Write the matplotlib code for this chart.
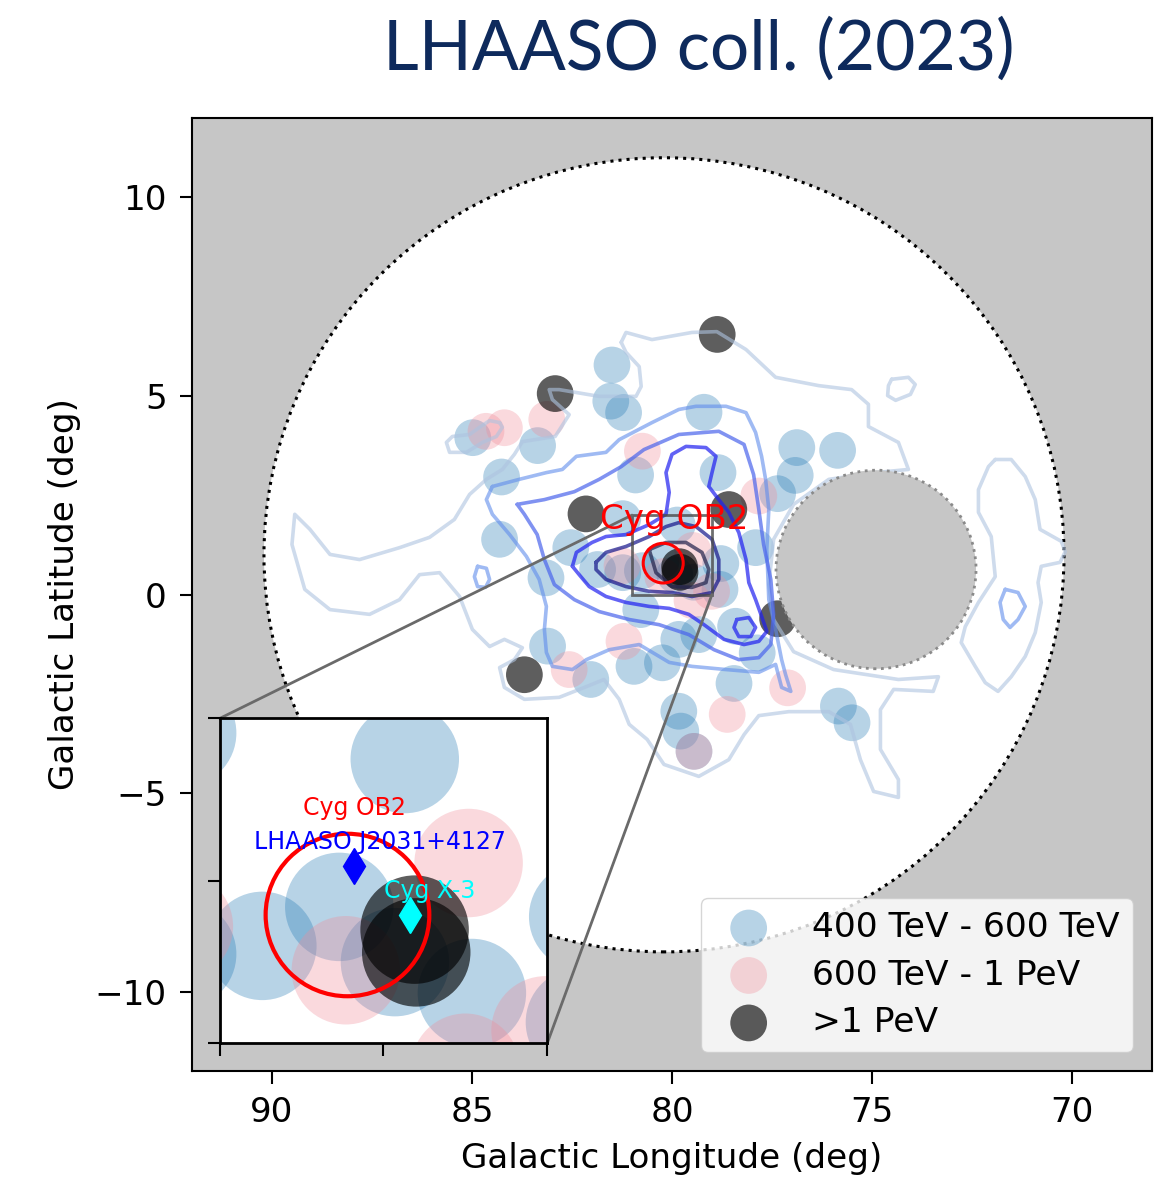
import matplotlib
matplotlib.use("Agg")
import matplotlib.pyplot as plt
from matplotlib.patches import Circle, Rectangle, ConnectionPatch

plt.rcParams['font.family'] = ['DejaVu Sans']

# ---------------- photon-like events (Galactic lon, lat in deg) ----------------
blue_lon = [81.50, 81.53, 81.21, 84.98, 83.36, 84.26, 80.91, 84.31, 79.20, 76.88,
            75.86, 76.92, 77.36, 78.85, 77.91, 82.53, 83.15, 81.86, 80.78, 83.11,
            82.03, 80.95, 80.24, 78.41, 79.83, 79.33, 77.87, 78.45, 79.83, 79.78,
            79.45, 75.84, 75.50, 79.87, 80.27, 80.74, 81.23, 81.23, 79.93, 79.46,
            78.78, 78.80]
blue_lat = [5.78, 4.87, 4.58, 3.95, 3.75, 2.96, 3.01, 1.39, 4.59, 3.70,
            3.63, 3.00, 2.54, 3.07, 1.18, 1.18, 0.42, 0.63, -0.38, -1.30,
            -2.14, -1.81, -1.72, -0.80, -1.13, -1.01, -1.47, -2.24, -2.94, -3.44,
            -3.95, -2.81, -3.23, 1.75, 0.84, 0.60, 0.55, 1.91, 0.50, 0.31,
            0.78, 0.13]

pink_lon = [83.13, 84.65, 84.19, 80.74, 77.83, 81.20, 82.57, 77.11, 78.62, 79.45,
            79.48, 80.23, 81.25, 79.01, 79.50]
pink_lat = [4.41, 4.11, 4.20, 3.61, 2.48, -1.18, -1.89, -2.35, -3.02, -3.95,
            1.11, 0.45, 0.72, 0.08, -0.15]

pev_lon = [82.92, 82.15, 78.87, 78.58, 77.36, 83.69, 79.81, 79.80]
pev_lat = [5.06, 2.03, 6.55, 2.14, -0.61, -2.02, 0.70, 0.56]

event_labels = ['400 TeV - 600 TeV', '600 TeV - 1 PeV', '>1 PeV']

# ---------------- significance contours (lon, lat vertices) ----------------
level1_main = [(81.27, 6.35), (81.15, 6.60), (80.50, 6.42), (79.50, 6.60), (78.88, 6.62),
               (78.15, 6.17), (77.41, 5.47), (76.33, 5.26), (75.51, 5.16), (75.09, 4.79),
               (75.09, 4.23), (74.34, 3.83), (74.09, 3.15), (74.91, 3.07), (76.08, 2.90),
               (76.96, 2.27), (77.46, 1.39), (77.58, 0.25), (77.46, -0.63), (76.96, -1.44),
               (75.96, -1.89), (74.34, -2.14), (73.34, -2.07), (73.47, -2.44), (74.46, -2.39),
               (74.79, -2.90), (74.79, -3.90), (74.34, -4.66), (74.34, -5.11), (74.96, -4.96),
               (75.29, -4.16), (75.54, -3.27), (76.08, -2.95), (77.08, -2.95), (77.83, -3.05),
               (78.20, -3.53), (78.58, -4.16), (79.33, -4.58), (80.20, -4.28), (80.62, -3.65),
               (81.07, -3.27), (81.32, -2.64), (81.70, -2.14), (82.14, -2.32), (82.82, -2.59),
               (83.69, -2.64), (84.19, -2.34), (84.31, -1.84), (83.94, -1.64), (83.74, -1.34),
               (84.19, -1.13), (84.56, -1.31), (84.99, -0.88), (85.31, -0.05), (85.81, 0.55),
               (86.31, 0.50), (86.81, -0.13), (87.56, -0.50), (88.55, -0.38), (89.18, 0.13),
               (89.50, 1.26), (89.43, 2.02), (89.05, 1.64), (88.55, 1.01), (87.81, 0.88),
               (86.81, 1.18), (86.06, 1.44), (85.44, 1.89), (85.06, 2.52), (84.64, 2.90),
               (84.24, 3.15), (83.94, 3.53), (83.74, 3.85), (82.92, 3.98), (82.57, 4.53),
               (82.99, 4.91), (83.07, 5.16), (82.82, 5.16), (81.82, 4.99), (80.90, 4.99),
               (80.77, 5.24), (80.82, 5.74), (81.15, 6.10)]
level1_lobe = [(84.31, 4.33), (84.56, 4.38), (84.81, 4.21), (85.06, 4.03), (85.49, 3.98),
               (85.64, 3.83), (85.56, 3.58), (85.14, 3.58), (84.74, 3.83), (84.39, 3.98),
               (84.24, 4.21)]
level1_spot = [(74.51, 5.42), (74.09, 5.47), (73.92, 5.29), (74.04, 5.04), (74.41, 4.89),
               (74.61, 5.01), (74.59, 5.26)]
level1_east = [(71.92, 3.40), (71.52, 3.40), (71.17, 2.97), (70.92, 2.39), (70.80, 1.64),
               (70.27, 1.34), (70.17, 1.08), (70.30, 0.81), (70.77, 0.71), (70.85, 0.30),
               (70.77, -0.20), (70.92, -0.96), (71.17, -1.56), (71.52, -2.07), (71.85, -2.44),
               (72.17, -2.22), (72.42, -1.81), (72.77, -1.21), (72.67, -0.81), (72.34, -0.20),
               (71.92, 0.45), (72.02, 1.46), (72.34, 2.07), (72.34, 2.64), (72.09, 3.22)]

level2_main = [(84.49, 2.72), (83.82, 2.90), (83.14, 3.07), (82.74, 3.15), (82.39, 3.48),
               (81.65, 3.58), (81.32, 3.90), (80.50, 4.33), (79.83, 4.66), (79.40, 4.74),
               (78.65, 4.74), (78.15, 4.58), (77.91, 4.08), (77.76, 3.48), (77.66, 2.90),
               (77.58, 2.14), (77.63, 1.13), (77.58, -0.13), (77.41, -0.88), (77.26, -1.64),
               (77.16, -2.02), (77.03, -2.44), (77.26, -2.34), (77.41, -1.76), (77.83, -1.96),
               (78.65, -1.89), (79.50, -1.81), (80.07, -1.71), (80.82, -1.26), (81.57, -1.39),
               (82.14, -1.64), (82.49, -1.89), (82.99, -1.81), (83.14, -1.46), (83.19, -0.88),
               (83.14, -0.30), (83.32, 0.38), (83.64, 0.96), (84.06, 1.51), (84.49, 2.02),
               (84.64, 2.39)]
level2_spot = [(84.86, 0.71), (84.64, 0.66), (84.56, 0.38), (84.66, 0.18), (84.86, 0.20),
               (84.94, 0.45)]
level2_east = [(71.67, 0.13), (71.35, 0.05), (71.17, -0.30), (71.35, -0.63), (71.55, -0.83),
               (71.72, -0.63), (71.80, -0.20)]

level3_main = [(83.87, 2.27), (83.19, 2.39), (82.44, 2.59), (81.82, 2.90), (81.27, 3.22),
               (80.70, 3.65), (79.83, 4.03), (78.83, 4.11), (78.20, 3.78), (77.96, 3.02),
               (77.83, 2.14), (77.71, 1.26), (77.53, 0.38), (77.46, -0.50), (77.53, -1.26),
               (77.83, -1.59), (78.33, -1.64), (78.95, -1.39), (79.58, -1.01), (80.32, -0.76),
               (81.07, -0.63), (81.82, -0.43), (82.44, -0.13), (82.94, 0.25), (83.19, 0.88),
               (83.37, 1.51), (83.69, 2.02)]

level4_main = [(82.49, 0.71), (82.39, 1.06), (82.00, 1.31), (81.65, 1.46), (81.15, 1.51),
               (80.57, 1.76), (80.15, 2.02), (80.07, 2.57), (80.15, 3.07), (80.00, 3.53),
               (79.65, 3.73), (79.15, 3.70), (78.90, 3.48), (79.00, 3.07), (79.08, 2.72),
               (78.83, 2.39), (78.58, 2.07), (78.33, 1.56), (78.15, 0.88), (78.08, 0.30),
               (77.91, -0.13), (77.76, -0.55), (77.63, -0.93), (77.83, -1.18), (78.20, -1.26),
               (78.70, -1.13), (79.20, -0.76), (79.58, -0.50), (80.07, -0.35), (80.57, -0.30),
               (81.15, -0.20), (81.65, -0.05), (82.07, 0.20), (82.32, 0.50)]
level4_spot = [(78.38, -0.63), (78.08, -0.58), (77.91, -0.83), (78.03, -1.06), (78.33, -1.06),
               (78.45, -0.83)]

level5_main = [(81.90, 0.81), (81.65, 1.06), (81.15, 1.21), (80.57, 1.46), (80.15, 1.71),
               (79.83, 1.81), (79.40, 1.71), (79.00, 1.39), (78.83, 0.88), (78.83, 0.38),
               (79.00, 0.05), (79.50, -0.05), (80.00, 0.05), (80.57, 0.08), (81.15, 0.20),
               (81.65, 0.38), (81.90, 0.63)]

level6_main = [(80.57, 1.13), (80.15, 1.31), (79.65, 1.31), (79.25, 1.06), (79.08, 0.63),
               (79.15, 0.30), (79.50, 0.18), (80.00, 0.20), (80.40, 0.55)]

contour_levels = [
    ([level1_main, level1_lobe, level1_spot, level1_east], '#aec3e0', 0.6),
    ([level2_main, level2_spot, level2_east], '#5f8cec', 0.6),
    ([level3_main], '#4a64ec', 0.7),
    ([level4_main, level4_spot], '#1f1ff0', 0.7),
    ([level5_main], '#14148a', 0.7),
    ([level6_main], '#20204a', 0.7),
]

# ---------------- sources and field of view ----------------
fov_center, fov_radius = (80.2, 1.0), 10.0
mask_center, mask_radius = (74.9, 0.63), 2.5
cygob2_lon, cygob2_lat, cygob2_radius = 80.22, 0.79, 0.5
lhaaso_lon, lhaaso_lat = 80.18, 1.09
cygx3_lon, cygx3_lat = 79.84, 0.79
zoom_lon, zoom_lat = (81.0, 79.0), (0.0, 2.0)

blue_c, pink_c, pev_c = '#1f77b4', '#f08c9a', 'black'
blue_a, pink_a, pev_a = 0.32, 0.33, 0.63

font_size = 24.6


def draw_events(a, size, with_labels):
    lab = event_labels if with_labels else [None, None, None]
    a.scatter(blue_lon, blue_lat, s=size, c=blue_c, alpha=blue_a,
              edgecolors='none', label=lab[0], zorder=2)
    a.scatter(pink_lon, pink_lat, s=size, c=pink_c, alpha=pink_a,
              edgecolors='none', label=lab[1], zorder=2)
    a.scatter(pev_lon, pev_lat, s=size, c=pev_c, alpha=pev_a,
              edgecolors='none', label=lab[2], zorder=2)


fig = plt.figure(figsize=(11.69, 11.79), dpi=100)
ax = fig.add_axes([0.1642, 0.0916, 0.8213, 0.8083])
ax.set_facecolor('#c6c6c6')
ax.set_xlim(92, 68)
ax.set_ylim(-12, 12)

ax.add_patch(Circle(fov_center, fov_radius, facecolor='white', edgecolor='black',
                    linestyle=':', linewidth=2.2, zorder=0.5))
ax.add_patch(Circle(mask_center, mask_radius, facecolor='#c6c6c6', edgecolor='#8a8a8a',
                    linestyle=':', linewidth=2.0, zorder=3.5))

draw_events(ax, 700, True)

for curves, col, alp in contour_levels:
    for curve in curves:
        lon = [p[0] for p in curve] + [curve[0][0]]
        lat = [p[1] for p in curve] + [curve[0][1]]
        ax.plot(lon, lat, color=col, alpha=alp, lw=2.6, solid_joinstyle='round',
                solid_capstyle='round', zorder=3)

ax.add_patch(Circle((cygob2_lon, cygob2_lat), cygob2_radius, fill=False,
                    edgecolor='red', linewidth=2.2, zorder=5))
ax.text(79.95, 1.89, 'Cyg OB2', color='red', fontsize=font_size, ha='center',
        va='center', zorder=6)

ax.add_patch(Rectangle((zoom_lon[1], zoom_lat[0]), zoom_lon[0] - zoom_lon[1],
                       zoom_lat[1] - zoom_lat[0], fill=False, edgecolor='#4a4a4a',
                       alpha=0.8, linewidth=2.0, zorder=4))

ax.set_xticks([90, 85, 80, 75, 70])
ax.set_yticks([-10, -5, 0, 5, 10])
ax.tick_params(labelsize=font_size, length=9, width=1.5, pad=9)
for sp in ax.spines.values():
    sp.set_linewidth(1.5)
ax.set_xlabel('Galactic Longitude (deg)', fontsize=font_size, labelpad=9)
ax.set_ylabel('Galactic Latitude (deg)', fontsize=font_size, labelpad=10)

leg = ax.legend(loc='lower right', fontsize=24.8, borderpad=0.38, handletextpad=0.85,
                labelspacing=0.42, borderaxespad=0.55)
leg.set_zorder(7)

# ---------------- zoomed view of the Cyg OB2 region ----------------
ax_in = ax.inset_axes([0.029, 0.029, 0.341, 0.341])
ax_in.set_facecolor('white')
ax_in.set_xlim(*zoom_lon)
ax_in.set_ylim(*zoom_lat)
draw_events(ax_in, 6100, False)
ax_in.add_patch(Circle((cygob2_lon, cygob2_lat), cygob2_radius, fill=False,
                       edgecolor='red', linewidth=3.0, zorder=5))
ax_in.plot([lhaaso_lon], [lhaaso_lat], marker='d', color='blue', ms=18, zorder=6)
ax_in.plot([cygx3_lon], [cygx3_lat], marker='d', color='cyan', ms=18, zorder=6)
ax_in.text(80.18, 1.45, 'Cyg OB2', color='red', fontsize=17, ha='center', va='center',
           zorder=7)
ax_in.text(80.02, 1.24, 'LHAASO J2031+4127', color='blue', fontsize=17, ha='center',
           va='center', zorder=7)
ax_in.text(79.72, 0.94, 'Cyg X-3', color='cyan', fontsize=17, ha='center', va='center',
           zorder=7)
ax_in.set_xticks([81, 80, 79])
ax_in.set_yticks([0, 1, 2])
ax_in.set_xticklabels([])
ax_in.set_yticklabels([])
ax_in.tick_params(length=9, width=1.5)
for sp in ax_in.spines.values():
    sp.set_linewidth(2.0)

for corner in [(zoom_lon[0], zoom_lat[1]), (zoom_lon[1], zoom_lat[0])]:
    con = ConnectionPatch(xyA=corner, coordsA=ax.transData, xyB=corner,
                          coordsB=ax_in.transData, color='#6a6a6a', linewidth=2.0,
                          zorder=4)
    ax.add_artist(con)

fig.text(0.598, 0.958, 'LHAASO coll. (2023)', fontsize=50, color='#0e2a5c',
         family=['Lato', 'DejaVu Sans'], ha='center', va='center')

fig.savefig('out.png', dpi=100, facecolor='white')
